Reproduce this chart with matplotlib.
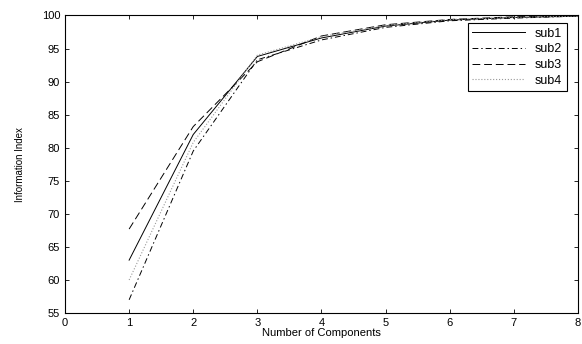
import matplotlib
matplotlib.use("Agg")
import matplotlib.pyplot as plt

plt.rcParams["font.family"] = "Liberation Sans"

components = [1, 2, 3, 4, 5, 6, 7, 8]
sub1 = [63.0, 82.0, 93.8, 96.6, 98.4, 99.3, 99.7, 99.9]
sub2 = [57.0, 79.5, 93.3, 96.3, 98.2, 99.2, 99.6, 99.9]
sub3 = [67.7, 83.2, 93.0, 96.9, 98.6, 99.4, 99.8, 100.0]
sub4 = [60.0, 80.8, 94.0, 96.8, 98.5, 99.4, 99.7, 99.9]

fig = plt.figure(figsize=(5.82, 3.44), dpi=100)
ax = fig.add_axes([0.1117, 0.090, 0.8813, 0.865])

ax.plot(components, sub1, '-', color='k', lw=0.7, label='sub1')
ax.plot(components, sub2, color='k', lw=0.7, dashes=[6, 3, 1.5, 3], label='sub2')
ax.plot(components, sub3, color='k', lw=0.7, dashes=[8, 4], label='sub3')
ax.plot(components, sub4, ':', color='#999999', lw=0.8, label='sub4')

ax.set_xlim(0, 8)
ax.set_ylim(55, 100)
ax.set_xticks(range(0, 9))
ax.set_yticks(range(55, 101, 5))
ax.tick_params(direction='in', top=True, right=True, labelsize=8, length=3, width=0.6)
for s in ax.spines.values():
    s.set_linewidth(0.8)
ax.set_xlabel('Number of Components', fontsize=8, labelpad=0)
ax.set_ylabel('Information Index', fontsize=7, labelpad=12)

leg = ax.legend(loc='upper right', bbox_to_anchor=(0.99, 0.995), fontsize=9,
                handlelength=4.2, fancybox=False, framealpha=1,
                edgecolor='k', borderpad=0.35, labelspacing=0.3)
leg.get_frame().set_linewidth(0.8)

fig.savefig('out.png', dpi=100)
